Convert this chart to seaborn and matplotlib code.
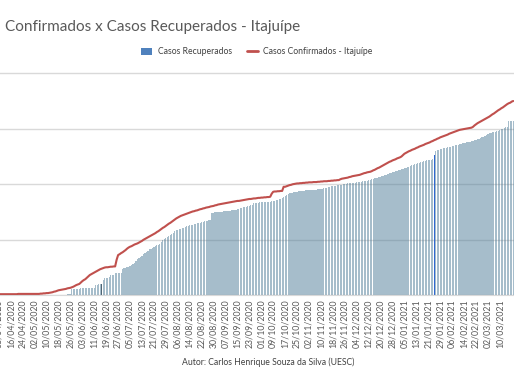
import numpy as np
import pandas as pd
import matplotlib
matplotlib.use("Agg")
import matplotlib.pyplot as plt
import seaborn as sns
from matplotlib.patches import Patch
from matplotlib.lines import Line2D

# === Data (one value per day, 31/03/2020 .. 19/03/2021) ===
datas = pd.date_range("2020-03-31", periods=354, freq="D")

casos_confirmados = [
    2, 2, 3, 3, 3, 3, 4, 4,
    4, 4, 4, 4, 4, 4, 4, 4,
    4, 4, 4, 4, 4, 5, 5, 5,
    5, 5, 5, 5, 5, 5, 5, 5,
    5, 5, 5, 5, 6, 6, 7, 7,
    8, 8, 9, 10, 11, 13, 14, 16,
    18, 19, 20, 21, 22, 23, 25, 26,
    27, 29, 31, 34, 37, 39, 41, 46,
    51, 55, 58, 63, 68, 73, 76, 79,
    82, 85, 88, 91, 94, 96, 98, 100,
    101, 101, 102, 103, 103, 104, 104, 128,
    145, 148, 152, 155, 159, 163, 168, 172,
    175, 177, 180, 183, 185, 187, 190, 193,
    196, 200, 203, 206, 209, 212, 215, 218,
    221, 224, 228, 231, 235, 239, 243, 246,
    250, 254, 258, 261, 265, 269, 273, 277,
    280, 283, 286, 288, 290, 292, 294, 296,
    298, 300, 302, 303, 305, 306, 308, 310,
    311, 313, 314, 316, 317, 318, 320, 321,
    322, 324, 325, 327, 328, 329, 330, 331,
    332, 333, 334, 335, 336, 337, 338, 339,
    340, 340, 341, 342, 343, 344, 345, 346,
    347, 347, 348, 349, 349, 350, 351, 351,
    352, 352, 353, 353, 354, 354, 355, 366,
    373, 374, 374, 375, 375, 376, 376, 391,
    391, 393, 395, 397, 398, 400, 401, 402,
    403, 403, 404, 404, 405, 405, 406, 406,
    407, 407, 407, 408, 408, 408, 409, 409,
    410, 410, 411, 411, 411, 412, 412, 413,
    413, 414, 414, 415, 415, 418, 420, 421,
    422, 423, 424, 426, 427, 429, 430, 431,
    432, 433, 434, 436, 438, 440, 441, 443,
    444, 445, 447, 450, 452, 455, 458, 460,
    463, 466, 469, 472, 475, 478, 481, 483,
    486, 488, 490, 493, 495, 497, 500, 505,
    510, 513, 516, 519, 521, 524, 526, 528,
    531, 533, 536, 538, 540, 542, 545, 547,
    549, 551, 554, 556, 559, 561, 564, 566,
    569, 571, 573, 575, 577, 579, 582, 584,
    586, 588, 590, 592, 594, 596, 597, 598,
    599, 600, 601, 602, 603, 604, 607, 612,
    616, 620, 623, 626, 629, 632, 635, 638,
    641, 644, 648, 652, 655, 659, 663, 667,
    670, 674, 677, 681, 685, 689, 692, 694,
    698, 700,
]

casos_recuperados = [
    0, 0, 0, 0, 0, 0, 0, 0,
    0, 0, 0, 0, 0, 0, 0, 0,
    0, 0, 0, 0, 0, 0, 0, 0,
    0, 0, 0, 0, 0, 0, 0, 0,
    0, 0, 0, 0, 0, 0, 0, 0,
    0, 0, 0, 1, 1, 1, 1, 1,
    1, 1, 2, 2, 2, 2, 3, 3,
    3, 23, 23, 24, 24, 24, 24, 25,
    25, 25, 25, 26, 26, 26, 27, 27,
    27, 37, 38, 39, 40, 41, 55, 61,
    62, 63, 65, 72, 73, 74, 79, 79,
    80, 80, 81, 95, 97, 99, 101, 103,
    107, 110, 114, 118, 125, 130, 135, 139,
    143, 147, 151, 155, 160, 165, 168, 171,
    174, 177, 180, 183, 186, 192, 198, 203,
    207, 211, 214, 217, 222, 226, 230, 234,
    236, 238, 240, 242, 244, 246, 248, 250,
    252, 254, 255, 256, 258, 259, 260, 262,
    263, 264, 266, 267, 268, 270, 271, 298,
    298, 299, 299, 299, 300, 300, 301, 302,
    302, 303, 304, 305, 306, 307, 308, 309,
    310, 312, 314, 316, 317, 318, 319, 320,
    322, 324, 327, 331, 334, 334, 334, 335,
    335, 335, 336, 336, 336, 337, 337, 338,
    339, 340, 342, 344, 346, 348, 350, 354,
    358, 362, 365, 368, 369, 370, 371, 372,
    373, 374, 374, 375, 376, 377, 378, 378,
    379, 380, 380, 380, 381, 381, 382, 382,
    383, 384, 386, 387, 388, 389, 391, 392,
    393, 394, 395, 396, 397, 398, 399, 400,
    401, 402, 403, 404, 405, 405, 406, 406,
    407, 407, 408, 409, 410, 411, 412, 413,
    415, 416, 418, 419, 421, 422, 424, 425,
    427, 429, 431, 433, 435, 437, 440, 442,
    443, 445, 447, 449, 450, 452, 454, 456,
    458, 460, 462, 464, 466, 468, 470, 472,
    474, 476, 478, 480, 481, 483, 484, 486,
    487, 488, 489, 490, 506, 520, 522, 524,
    526, 527, 529, 530, 532, 533, 535, 536,
    537, 538, 540, 541, 543, 544, 545, 547,
    548, 550, 551, 553, 554, 556, 557, 559,
    561, 562, 564, 566, 569, 572, 575, 578,
    581, 584, 585, 587, 588, 590, 591, 593,
    595, 598, 600, 603, 605, 608, 629, 629,
    629, 629,
]

# bars drawn in a stronger colour in the original
barra_azul = "2021-01-25"
barra_escura = "2020-06-16"

# labelled dates seen on the axis (every 8 days)
primeiro_rotulo = "2020-04-08"
ultimo_rotulo = "2021-03-10"

titulo = "Confirmados x Casos Recuperados - Itajuípe"
autor = "Autor: Carlos Henrique Souza da Silva (UESC)"

df = pd.DataFrame({
    "pos": np.arange(len(datas)),
    "data": datas,
    "recuperados": casos_recuperados,
    "confirmados": casos_confirmados,
})

# === Plot ===
sns.set_style("white")
plt.rcParams["font.family"] = ["Lato", "DejaVu Sans"]
cinza = "#595959"

fig = plt.figure(figsize=(5.14, 3.86), dpi=100)
# axes run past the figure edges: the reference is a crop of a wider chart
ax = fig.add_axes([-0.02695, 0.2350, 1.0270, 0.5824])

sns.barplot(data=df, x="pos", y="recuperados", color="#4e7c99", saturation=1,
            alpha=0.5, width=0.8, linewidth=0, ax=ax)
for i, p in enumerate(ax.patches):
    d = datas[i].strftime("%Y-%m-%d")
    if d == barra_azul:
        p.set_facecolor("#2f67d0")
        p.set_alpha(1)
    elif d == barra_escura:
        p.set_facecolor("#4f6574")
        p.set_alpha(1)

sns.lineplot(data=df, x="pos", y="confirmados", color="#c0504d", linewidth=1.5, ax=ax, zorder=5)

ax.set_xlim(-0.5, len(datas) - 0.5)
ax.set_ylim(0, 810)
ax.set_yticks([0, 200, 400, 600, 800])
ax.yaxis.grid(True, color="#d9d9d9", linewidth=1)
ax.set_axisbelow(True)
ax.tick_params(axis="y", left=False, labelleft=False)

i0 = datas.get_loc(pd.Timestamp(primeiro_rotulo))
i1 = datas.get_loc(pd.Timestamp(ultimo_rotulo))
tick_pos = np.arange(i0, i1 + 1, 8)
ax.set_xticks(tick_pos)
ax.set_xticklabels([datas[i].strftime("%d/%m/%Y") for i in tick_pos], rotation=90,
                   fontsize=6.3, color=cinza)
ax.tick_params(axis="x", length=0, pad=3)
ax.set_xlabel("")
ax.set_ylabel("")
for s in ["top", "right", "left"]:
    ax.spines[s].set_visible(False)
ax.spines["bottom"].set_color("#d9d9d9")

fig.text(5 / 514, 1 - 27 / 386, titulo, fontsize=11, color=cinza, ha="left", va="center")

handles = [Patch(facecolor="#4f81bd", edgecolor="none"),
           Line2D([0], [0], color="#c0504d", linewidth=2)]
fig.legend(handles, ["Casos Recuperados", "Casos Confirmados - Itajuípe"],
           loc="center", bbox_to_anchor=(0.5, 1 - 52 / 386), ncol=2, frameon=False,
           fontsize=6.2, handlelength=1.3, handleheight=1.0, columnspacing=1.8,
           handletextpad=0.6, labelcolor="#404040")

fig.text(268 / 514, 1 - 362 / 386, autor, fontsize=6.2, color="#404040", ha="center", va="center")

fig.savefig("out.png", dpi=100)
